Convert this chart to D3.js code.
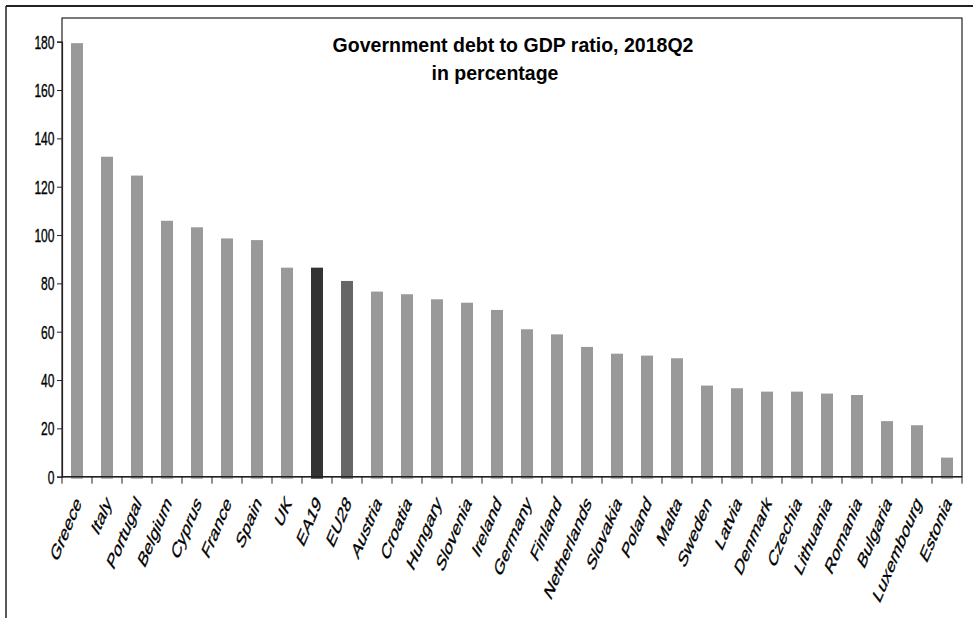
<!DOCTYPE html>
<html>
<head>
<meta charset="utf-8">
<script src="https://cdn.jsdelivr.net/npm/d3@7/dist/d3.min.js"></script>
<style>
  html, body { margin: 0; padding: 0; background: #fff; }
  svg { display: block; }
  text { font-family: "Liberation Sans", Arial, sans-serif; fill: #000; }
</style>
</head>
<body>
<svg id="chart" width="973" height="618"></svg>
<script>
const categories = ["Greece","Italy","Portugal","Belgium","Cyprus","France","Spain","UK","EA19","EU28",
  "Austria","Croatia","Hungary","Slovenia","Ireland","Germany","Finland","Netherlands","Slovakia","Poland",
  "Malta","Sweden","Latvia","Denmark","Czechia","Lithuania","Romania","Bulgaria","Luxembourg","Estonia"];
const values = [179.4,132.4,124.6,105.9,103.2,98.6,97.9,86.5,86.5,81.0,
  76.6,75.5,73.4,72.0,69.0,61.0,58.9,53.7,50.9,50.1,
  49.0,37.7,36.6,35.2,35.2,34.4,33.8,23.0,21.3,7.9];
const barColors = {EA19: "#333333", EU28: "#666666"};
const defaultColor = "#999999";
const yTicks = [0,20,40,60,80,100,120,140,160,180];
const titleLines = ["Government debt to GDP ratio, 2018Q2", "in percentage"];

const svg = d3.select("#chart");
const pLeft = 62, pRight = 962, pTop = 18, pBottom = 476.7;

const x = d3.scaleBand().domain(categories).range([pLeft, pRight]).paddingInner(0.6).paddingOuter(0.3);
const y = d3.scaleLinear().domain([0, 180]).range([pBottom, 41.7]);

// outer frame
svg.append("line").attr("x1", 6).attr("x2", 973).attr("y1", 6).attr("y2", 6)
  .attr("stroke", "#222").attr("stroke-width", 2);
svg.append("line").attr("x1", 6).attr("x2", 6).attr("y1", 6).attr("y2", 618)
  .attr("stroke", "#222").attr("stroke-width", 1.5);

// plot frame
svg.append("rect").attr("x", pLeft).attr("y", pTop).attr("width", pRight - pLeft).attr("height", pBottom - pTop)
  .attr("fill", "none").attr("stroke", "#222").attr("stroke-width", 1.2);

// bars
svg.append("g").selectAll("rect").data(categories).join("rect")
  .attr("x", d => x(d))
  .attr("width", x.bandwidth())
  .attr("y", (d, i) => y(values[i]))
  .attr("height", (d, i) => y(0) - y(values[i]) + 2)
  .attr("fill", d => barColors[d] || defaultColor);

// y axis
const yAxis = d3.axisLeft(y).tickValues(yTicks).tickSize(5).tickPadding(3);
const gy = svg.append("g").attr("transform", `translate(${pLeft},0)`).call(yAxis);
gy.select(".domain").attr("stroke", "#222").attr("stroke-width", 1.2);
gy.selectAll(".tick line").attr("stroke", "#222");
gy.selectAll(".tick text")
  .attr("font-size", 18)
  .attr("font-family", "'Liberation Sans', Arial, sans-serif")
  .attr("x", null).attr("dy", null)
  .attr("text-anchor", "end")
  .attr("stroke", "#000").attr("stroke-width", 0.35)
  .attr("transform", "translate(-7.5,6.3) scale(0.67,1)");

// x axis: ticks at band boundaries
const boundaries = d3.range(categories.length + 1).map(i => pLeft + i * (pRight - pLeft) / categories.length);
const gx = svg.append("g");
gx.append("line").attr("x1", pLeft).attr("x2", pRight).attr("y1", pBottom).attr("y2", pBottom)
  .attr("stroke", "#222").attr("stroke-width", 1.5);
gx.selectAll("line.t").data(boundaries).join("line").attr("class", "t")
  .attr("x1", d => d).attr("x2", d => d).attr("y1", pBottom).attr("y2", pBottom + 7)
  .attr("stroke", "#222");
gx.selectAll("text").data(categories).join("text")
  .attr("transform", d => `translate(${x(d) + x.bandwidth() / 2 + 5},${pBottom + 27}) scale(1,1.72) rotate(-54)`)
  .attr("text-anchor", "end")
  .attr("font-size", 13)
  .attr("stroke", "#000").attr("stroke-width", 0.25)
  .text(d => d);

// title
svg.append("text").attr("transform", "translate(513,52) scale(0.93,1)").attr("text-anchor", "middle")
  .attr("font-size", 21).attr("font-weight", "bold").text(titleLines[0]);
svg.append("text").attr("transform", "translate(495,80) scale(0.93,1)").attr("text-anchor", "middle")
  .attr("font-size", 21).attr("font-weight", "bold").text(titleLines[1]);
</script>
</body>
</html>
